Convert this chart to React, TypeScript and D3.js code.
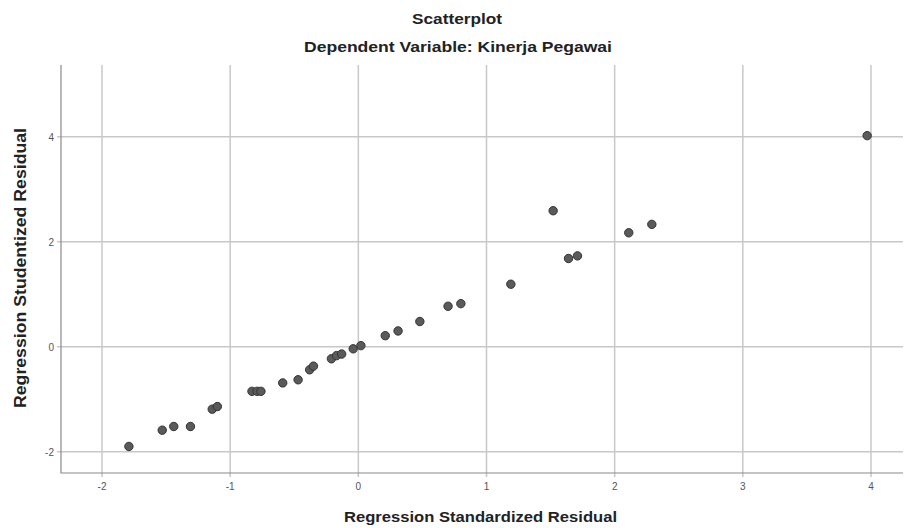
import { useEffect, useRef } from "react";
import * as d3 from "d3";

// Regression Standardized Residual (x) / Regression Studentized Residual (y)
const stdResid = [
  -1.79, -1.53, -1.44, -1.31, -1.14, -1.1, -0.83, -0.79, -0.76, -0.59, -0.47, -0.38,
  -0.35, -0.21, -0.17, -0.13, -0.04, 0.02, 0.21, 0.31, 0.48, 0.7, 0.8, 1.19, 1.52,
  1.64, 1.71, 2.11, 2.29, 3.97,
];
const studResid = [
  -1.9, -1.59, -1.52, -1.52, -1.19, -1.14, -0.85, -0.85, -0.85, -0.69, -0.63, -0.44,
  -0.37, -0.23, -0.17, -0.14, -0.04, 0.02, 0.21, 0.3, 0.48, 0.77, 0.82, 1.19, 2.59,
  1.68, 1.73, 2.17, 2.33, 4.02,
];
const xTicks = [-2, -1, 0, 1, 2, 3, 4];
const yTicks = [-2, 0, 2, 4];

const FONT = "'Liberation Sans', Arial, sans-serif";

export default function App() {
  const svgRef = useRef<SVGSVGElement>(null);

  useEffect(() => {
    document.body.style.margin = "0";
    if (!svgRef.current) return;
    const svg = d3.select(svgRef.current);
    svg.selectAll("*").remove();

    const left = 61;
    const right = 903;
    const top = 65;
    const bottom = 473;

    const x = d3.scaleLinear().domain([-2, 4]).range([102, 871]);
    const y = d3.scaleLinear().domain([-2, 4]).range([451.7, 136.7]);

    svg.append("rect").attr("width", 904).attr("height", 528).attr("fill", "#fff");

    // grid
    svg
      .append("g")
      .selectAll("line")
      .data(xTicks)
      .join("line")
      .attr("x1", (d) => x(d))
      .attr("x2", (d) => x(d))
      .attr("y1", top)
      .attr("y2", bottom + 4)
      .attr("stroke", "#c8c8c8")
      .attr("stroke-width", 1.5);

    svg
      .append("g")
      .selectAll("line")
      .data(yTicks)
      .join("line")
      .attr("x1", left - 4)
      .attr("x2", right)
      .attr("y1", (d) => y(d))
      .attr("y2", (d) => y(d))
      .attr("stroke", "#c8c8c8")
      .attr("stroke-width", 1.5);

    // axes
    svg
      .append("path")
      .attr("d", `M${left},${top}V${bottom}H${right}`)
      .attr("fill", "none")
      .attr("stroke", "#8a8a8a")
      .attr("stroke-width", 1.2);

    svg
      .append("g")
      .selectAll("text")
      .data(xTicks)
      .join("text")
      .attr("x", (d) => x(d))
      .attr("y", 490)
      .attr("text-anchor", "middle")
      .attr("font-family", FONT)
      .attr("font-size", 10)
      .attr("fill", "#555")
      .text((d) => d);

    svg
      .append("g")
      .selectAll("text")
      .data(yTicks)
      .join("text")
      .attr("x", 54)
      .attr("y", (d) => y(d) + 4)
      .attr("text-anchor", "end")
      .attr("font-family", FONT)
      .attr("font-size", 10)
      .attr("fill", "#555")
      .text((d) => d);

    // points
    const pts = stdResid.map((v, i) => [v, studResid[i]]);
    svg
      .append("g")
      .selectAll("circle")
      .data(pts)
      .join("circle")
      .attr("cx", (d) => x(d[0]))
      .attr("cy", (d) => y(d[1]))
      .attr("r", 4.2)
      .attr("fill", "#5a5a5a")
      .attr("stroke", "#333")
      .attr("stroke-width", 1);

    // titles
    svg
      .append("text")
      .attr("x", 412)
      .attr("y", 24)
      .attr("font-family", FONT)
      .attr("font-weight", "bold")
      .attr("font-size", 14)
      .attr("fill", "#222")
      .attr("textLength", 90)
      .attr("lengthAdjust", "spacingAndGlyphs")
      .text("Scatterplot");

    svg
      .append("text")
      .attr("x", 304)
      .attr("y", 52)
      .attr("font-family", FONT)
      .attr("font-weight", "bold")
      .attr("font-size", 14)
      .attr("fill", "#222")
      .attr("textLength", 308)
      .attr("lengthAdjust", "spacingAndGlyphs")
      .text("Dependent Variable: Kinerja Pegawai");

    svg
      .append("text")
      .attr("x", 344)
      .attr("y", 522)
      .attr("font-family", FONT)
      .attr("font-weight", "bold")
      .attr("font-size", 15)
      .attr("fill", "#222")
      .attr("textLength", 273)
      .attr("lengthAdjust", "spacingAndGlyphs")
      .text("Regression Standardized Residual");

    svg
      .append("text")
      .attr("transform", `translate(26,408) rotate(-90)`)
      .attr("font-family", FONT)
      .attr("font-weight", "bold")
      .attr("font-size", 16)
      .attr("fill", "#222")
      .attr("textLength", 280)
      .attr("lengthAdjust", "spacingAndGlyphs")
      .text("Regression Studentized Residual");
  }, []);

  return (
    <svg
      ref={svgRef}
      width={904}
      height={528}
      style={{ display: "block" }}
      role="img"
      aria-label="Scatterplot of regression residuals"
    />
  );
}
